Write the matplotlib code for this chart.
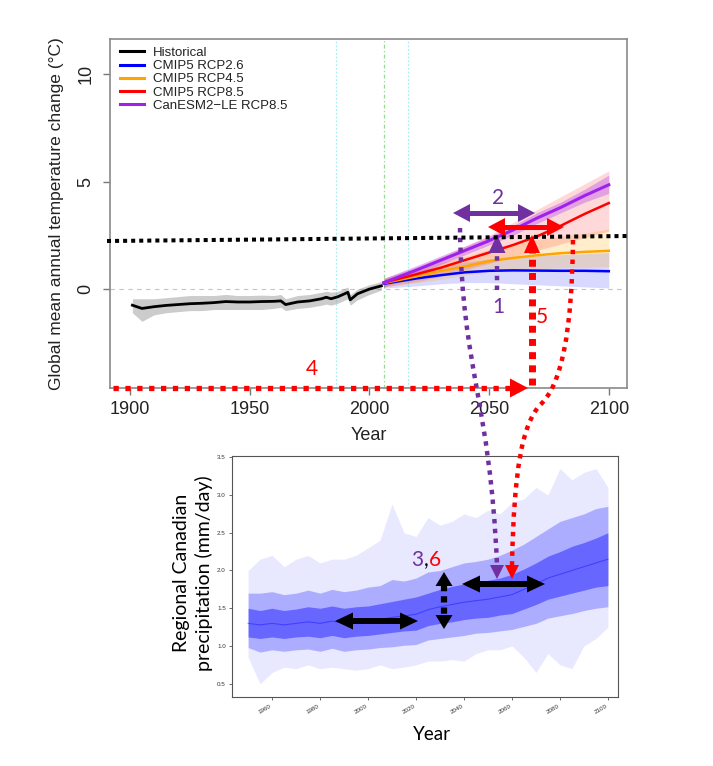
import numpy as np
import matplotlib.pyplot as plt
from matplotlib.patches import Polygon, PathPatch
from matplotlib.path import Path
from matplotlib.lines import Line2D

# ---------------- top panel: global mean temperature change (degC) ----------------
hist_years = [1901, 1905, 1910, 1915, 1920, 1925, 1930, 1935, 1940, 1945, 1950, 1955, 1960,
              1963, 1965, 1970, 1975, 1980, 1982, 1984, 1987, 1990, 1991, 1992, 1995, 2000, 2005]
hist_mean = [-0.75, -0.9, -0.82, -0.76, -0.72, -0.68, -0.66, -0.63, -0.58, -0.6, -0.6, -0.58, -0.57,
             -0.55, -0.72, -0.6, -0.55, -0.45, -0.38, -0.45, -0.35, -0.2, -0.15, -0.5, -0.22, 0.0, 0.15]
hist_lo = [-1.1, -1.5, -1.2, -1.1, -1.05, -1.0, -1.0, -0.95, -0.95, -0.95, -0.95, -0.95, -0.9,
           -0.85, -1.0, -0.9, -0.85, -0.75, -0.7, -0.75, -0.65, -0.5, -0.45, -0.75, -0.5, -0.25, -0.05]
hist_hi = [-0.45, -0.45, -0.45, -0.4, -0.35, -0.3, -0.3, -0.3, -0.25, -0.3, -0.3, -0.28, -0.3,
           -0.25, -0.45, -0.3, -0.25, -0.15, -0.1, -0.15, -0.1, 0.05, 0.1, -0.25, 0.0, 0.2, 0.35]

proj_years = [2006, 2020, 2030, 2040, 2050, 2060, 2070, 2080, 2090, 2100]
rcp26_mean = [0.25, 0.5, 0.65, 0.78, 0.85, 0.87, 0.86, 0.85, 0.85, 0.83]
rcp26_lo = [0.05, 0.15, 0.25, 0.3, 0.3, 0.25, 0.2, 0.15, 0.1, 0.05]
rcp26_hi = [0.45, 0.85, 1.05, 1.25, 1.4, 1.5, 1.55, 1.6, 1.65, 1.7]
rcp45_mean = [0.28, 0.6, 0.85, 1.05, 1.3, 1.45, 1.57, 1.67, 1.73, 1.78]
rcp45_lo = [0.1, 0.3, 0.45, 0.65, 0.8, 0.9, 0.95, 1.0, 1.0, 1.05]
rcp45_hi = [0.5, 0.95, 1.25, 1.5, 1.85, 2.1, 2.3, 2.45, 2.6, 2.8]
rcp85_mean = [0.3, 0.7, 1.0, 1.35, 1.7, 2.05, 2.45, 2.95, 3.5, 4.0]
rcp85_lo = [0.1, 0.35, 0.6, 0.9, 1.2, 1.5, 1.8, 2.1, 2.4, 2.7]
rcp85_hi = [0.5, 1.05, 1.5, 2.0, 2.5, 3.1, 3.7, 4.3, 4.9, 5.5]
can_mean = [0.3, 0.9, 1.35, 1.8, 2.25, 2.75, 3.3, 3.8, 4.35, 4.85]
can_lo = [0.1, 0.7, 1.15, 1.6, 2.05, 2.5, 3.05, 3.55, 4.05, 4.45]
can_hi = [0.5, 1.1, 1.55, 2.0, 2.45, 2.95, 3.55, 4.05, 4.65, 5.3]

legend_labels = ["Historical", "CMIP5 RCP2.6", "CMIP5 RCP4.5", "CMIP5 RCP8.5", "CanESM2\u2212LE RCP8.5"]
ref_lines = [1986, 2016]
split_year = 2006

# ---------------- bottom panel: regional Canadian precipitation (mm/day) ----------------
pr_years = list(range(1950, 2101, 5))
pr_mean = [1.3, 1.28, 1.3, 1.28, 1.3, 1.32, 1.3, 1.33, 1.3, 1.32, 1.33, 1.35, 1.38, 1.4, 1.42, 1.48,
           1.52, 1.55, 1.58, 1.6, 1.62, 1.65, 1.68, 1.75, 1.82, 1.9, 1.95, 2.0, 2.05, 2.1, 2.15]
pr_core_lo = [1.12, 1.1, 1.12, 1.1, 1.12, 1.13, 1.11, 1.14, 1.11, 1.13, 1.14, 1.16, 1.18, 1.2, 1.21,
              1.27, 1.3, 1.32, 1.35, 1.37, 1.38, 1.41, 1.43, 1.49, 1.55, 1.62, 1.66, 1.7, 1.74, 1.78, 1.8]
pr_core_hi = [1.5, 1.47, 1.5, 1.47, 1.49, 1.52, 1.5, 1.53, 1.5, 1.52, 1.53, 1.56, 1.59, 1.62, 1.65,
              1.7, 1.75, 1.79, 1.82, 1.84, 1.87, 1.9, 1.95, 2.02, 2.1, 2.19, 2.25, 2.32, 2.37, 2.43, 2.5]
pr_mid_lo = [0.98, 0.92, 0.95, 0.93, 0.95, 0.96, 0.93, 0.97, 0.93, 0.95, 0.96, 0.98, 0.99, 1.01, 1.02,
             1.08, 1.1, 1.12, 1.14, 1.17, 1.18, 1.2, 1.22, 1.26, 1.3, 1.37, 1.4, 1.43, 1.47, 1.5, 1.52]
pr_mid_hi = [1.7, 1.7, 1.72, 1.68, 1.7, 1.74, 1.7, 1.75, 1.72, 1.74, 1.78, 1.8, 1.88, 1.86, 1.9,
             1.98, 2.0, 2.05, 2.1, 2.12, 2.15, 2.2, 2.27, 2.35, 2.45, 2.55, 2.65, 2.7, 2.75, 2.82, 2.85]
pr_out_lo = [0.85, 0.5, 0.65, 0.72, 0.7, 0.75, 0.7, 0.72, 0.7, 0.68, 0.7, 0.75, 0.7, 0.72, 0.75, 0.8,
             0.8, 0.82, 0.8, 0.9, 0.95, 0.95, 1.0, 0.85, 0.65, 0.9, 0.75, 0.7, 1.0, 1.1, 1.25]
pr_out_hi = [2.0, 2.15, 2.2, 2.05, 2.15, 2.2, 2.1, 2.15, 2.15, 2.2, 2.3, 2.4, 2.88, 2.5, 2.45, 2.7,
             2.6, 2.65, 2.75, 2.7, 2.8, 2.75, 2.9, 2.95, 3.1, 3.0, 3.35, 3.2, 3.3, 3.35, 3.1]

W, H = 713, 766
PURPLE = '#7030A0'
RED = '#FF0000'

plt.rcParams['font.family'] = ['Liberation Sans', 'DejaVu Sans']
fig = plt.figure(figsize=(W / 100, H / 100), dpi=100)


def frac(x0, y0, x1, y1):
    return [x0 / W, 1 - y1 / H, (x1 - x0) / W, (y1 - y0) / H]


# ===== top axes =====
ax1 = fig.add_axes(frac(110, 39, 627, 388))
ax1.set_xlim(1891.65, 2107.6)
ax1.set_ylim(-4.60, 11.63)

ax1.axhline(0, color='#c4c4c4', lw=0.8, ls=(0, (4, 4)), zorder=1)
for yr in ref_lines:
    ax1.axvline(yr, color='#a8eef2', lw=0.9, ls=(0, (1.5, 1.5)), zorder=1)
ax1.axvline(split_year, color='#8ede8e', lw=0.9, ls=(0, (3, 2, 1, 2)), zorder=1)

ax1.fill_between(hist_years, hist_lo, hist_hi, color='grey', alpha=0.4, lw=0, zorder=2)
ax1.fill_between(proj_years, rcp26_lo, rcp26_hi, color='#0000FF', alpha=0.15, lw=0, zorder=2)
ax1.fill_between(proj_years, rcp45_lo, rcp45_hi, color='#FFA500', alpha=0.2, lw=0, zorder=2)
ax1.fill_between(proj_years, rcp85_lo, rcp85_hi, color='#FF0000', alpha=0.15, lw=0, zorder=2)
ax1.fill_between(proj_years, can_lo, can_hi, color='#A020F0', alpha=0.3, lw=0, zorder=2)

ax1.plot(hist_years, hist_mean, color='black', lw=2, zorder=4)
ax1.plot(proj_years, rcp26_mean, color='#0000FF', lw=1.8, zorder=4)
ax1.plot(proj_years, rcp45_mean, color='#FFA500', lw=1.8, zorder=4)
ax1.plot(proj_years, rcp85_mean, color='#FF0000', lw=1.8, zorder=4)
ax1.plot(proj_years, can_mean, color='#A020F0', lw=2.2, zorder=5)

handles = [Line2D([], [], color=c, lw=2.2) for c in ['black', '#0000FF', '#FFA500', '#FF0000', '#A020F0']]
leg = ax1.legend(handles, legend_labels, loc='upper left', bbox_to_anchor=(0.019, 0.978),
                 frameon=False, fontsize=9.5, handlelength=1.8, handletextpad=0.7,
                 labelspacing=0.08, borderpad=0, borderaxespad=0)
for t in leg.get_texts():
    t.set_color('#222222')

for s in ax1.spines.values():
    s.set_color('#8a8a8a')
    s.set_linewidth(1.2)
ax1.set_xticks([1900, 1950, 2000, 2050, 2100])
ax1.set_yticks([0, 5, 10])
ax1.tick_params(axis='both', length=5, width=1, color='#777777', labelsize=13, labelcolor='#222222')
ax1.tick_params(axis='x', pad=4)
ax1.tick_params(axis='y', pad=6, labelrotation=90)
for t in ax1.get_yticklabels():
    t.set_va('center')
ax1.set_xlabel('Year', fontsize=13, color='#222222', labelpad=7)
ax1.set_ylabel('Global mean annual temperature change (\u00b0C)', fontsize=12.5,
               color='#222222', labelpad=10)

# ===== bottom axes =====
ax2 = fig.add_axes(frac(232, 456, 618, 697))
ax2.set_xlim(1943.3, 2104.2)
ax2.set_ylim(0.325, 3.516)
ax2.fill_between(pr_years, pr_out_lo, pr_out_hi, color='#0000FF', alpha=0.09, lw=0)
ax2.fill_between(pr_years, pr_mid_lo, pr_mid_hi, color='#0000FF', alpha=0.25, lw=0)
ax2.fill_between(pr_years, pr_core_lo, pr_core_hi, color='#0000FF', alpha=0.4, lw=0)
ax2.plot(pr_years, pr_mean, color='#1a1aff', lw=0.8, alpha=0.5)
for s in ax2.spines.values():
    s.set_color('#555555')
    s.set_linewidth(0.8)
ax2.set_xticks(list(range(1960, 2101, 20)))
ax2.set_yticks([0.5, 1.0, 1.5, 2.0, 2.5, 3.0, 3.5])
ax2.set_yticklabels(['0.5', '1.0', '1.5', '2.0', '2.5', '3.0', '3.5'])
ax2.tick_params(axis='both', length=2.5, width=0.6, color='#555555', labelsize=4.5,
                labelcolor='#333333', pad=2)
for t in ax2.get_xticklabels():
    t.set_rotation(30)
    t.set_ha('right')

# ===== overlay for the annotations (pixel coordinates) =====
ov = fig.add_axes([0, 0, 1, 1], zorder=10)
ov.set_xlim(0, W)
ov.set_ylim(H, 0)
ov.axis('off')
ov.patch.set_alpha(0)


def head(tip, d, L, Wd, c):
    tx, ty = tip
    dx, dy = d
    bx, by = tx - dx * L, ty - dy * L
    px, py = -dy, dx
    ov.add_patch(Polygon([(tx, ty), (bx + px * Wd / 2, by + py * Wd / 2),
                          (bx - px * Wd / 2, by - py * Wd / 2)], closed=True, fc=c, ec='none'))


def double_h(x0, x1, y, c, lw, L, Wd):
    ov.plot([x0 + L * 0.8, x1 - L * 0.8], [y, y], color=c, lw=lw, solid_capstyle='butt')
    head((x0, y), (-1, 0), L, Wd, c)
    head((x1, y), (1, 0), L, Wd, c)


def curve(pts, c, lw, dash):
    codes = [Path.MOVETO] + [Path.CURVE4] * (len(pts) - 1)
    ov.add_patch(PathPatch(Path(pts, codes), fill=False, ec=c, lw=lw, ls=(0, dash)))


fnt = ['Lato', 'DejaVu Sans']

# threshold line (black dotted)
ov.plot([107, 628], [241, 236], color='black', lw=2.9, ls=(0, (1, 1)))

# 1: purple vertical arrow
ov.plot([497, 497], [290, 252], color=PURPLE, lw=3.2, ls=(0, (1, 1.2)))
head((497, 235), (0, -1), 18, 17, PURPLE)
ov.text(498, 307, '1', color=PURPLE, fontsize=15, family=fnt, ha='center', va='center')

# 2: purple double arrow
double_h(453, 535, 213, PURPLE, 3.6, 17, 18)
ov.text(498, 198, '2', color=PURPLE, fontsize=15, family=fnt, ha='center', va='center')

# red double arrow
double_h(488, 564, 227, RED, 3.6, 17, 18)

# 5: red vertical arrow
ov.plot([532, 532], [385, 252], color=RED, lw=5, ls=(0, (1, 0.9)))
head((532, 235), (0, -1), 18, 16, RED)
ov.text(542, 317, '5', color=RED, fontsize=15, family=fnt, ha='center', va='center')

# 4: red horizontal arrow
ov.plot([113, 512], [388, 388], color=RED, lw=3.8, ls=(0, (1, 1.25)))
head((528, 388), (1, 0), 18, 19, RED)
ov.text(312, 369, '4', color=RED, fontsize=15, family=fnt, ha='center', va='center')

# curved connectors to the precipitation panel
curve([(460, 228), (462, 370), (490, 400), (497, 565)], PURPLE, 3.2, (1, 1.2))
head((497, 579), (0, 1), 14, 14, PURPLE)
curve([(573, 240), (572, 330), (562, 385), (540, 405),
       (522, 425), (514, 470), (512, 565)], RED, 3.2, (1, 1.2))
head((512, 579), (0, 1), 14, 14, RED)

# black arrows in the bottom panel
double_h(335, 418, 621, 'black', 4.3, 18, 17)
double_h(462, 545, 584, 'black', 4.3, 18, 17)
ov.plot([444, 444], [585, 616], color='black', lw=4.5, ls=(0, (1, 0.8)))
head((444, 572), (0, -1), 14, 17, 'black')
head((444, 629), (0, 1), 14, 17, 'black')
ov.text(423, 560, '3', color=PURPLE, fontsize=15, family=fnt, ha='right', va='center')
ov.text(426, 560, ',', color='black', fontsize=15, family=fnt, ha='center', va='center')
ov.text(429, 560, '6', color=RED, fontsize=15, family=fnt, ha='left', va='center')

# bottom panel axis titles
ov.text(193, 573, 'Regional Canadian\nprecipitation (mm/day)', rotation=90, fontsize=14,
        family=fnt, ha='center', va='center', multialignment='center', linespacing=1.35)
ov.text(432, 735, 'Year', fontsize=13.5, family=fnt, ha='center', va='center')

fig.savefig('out.png', dpi=100)
